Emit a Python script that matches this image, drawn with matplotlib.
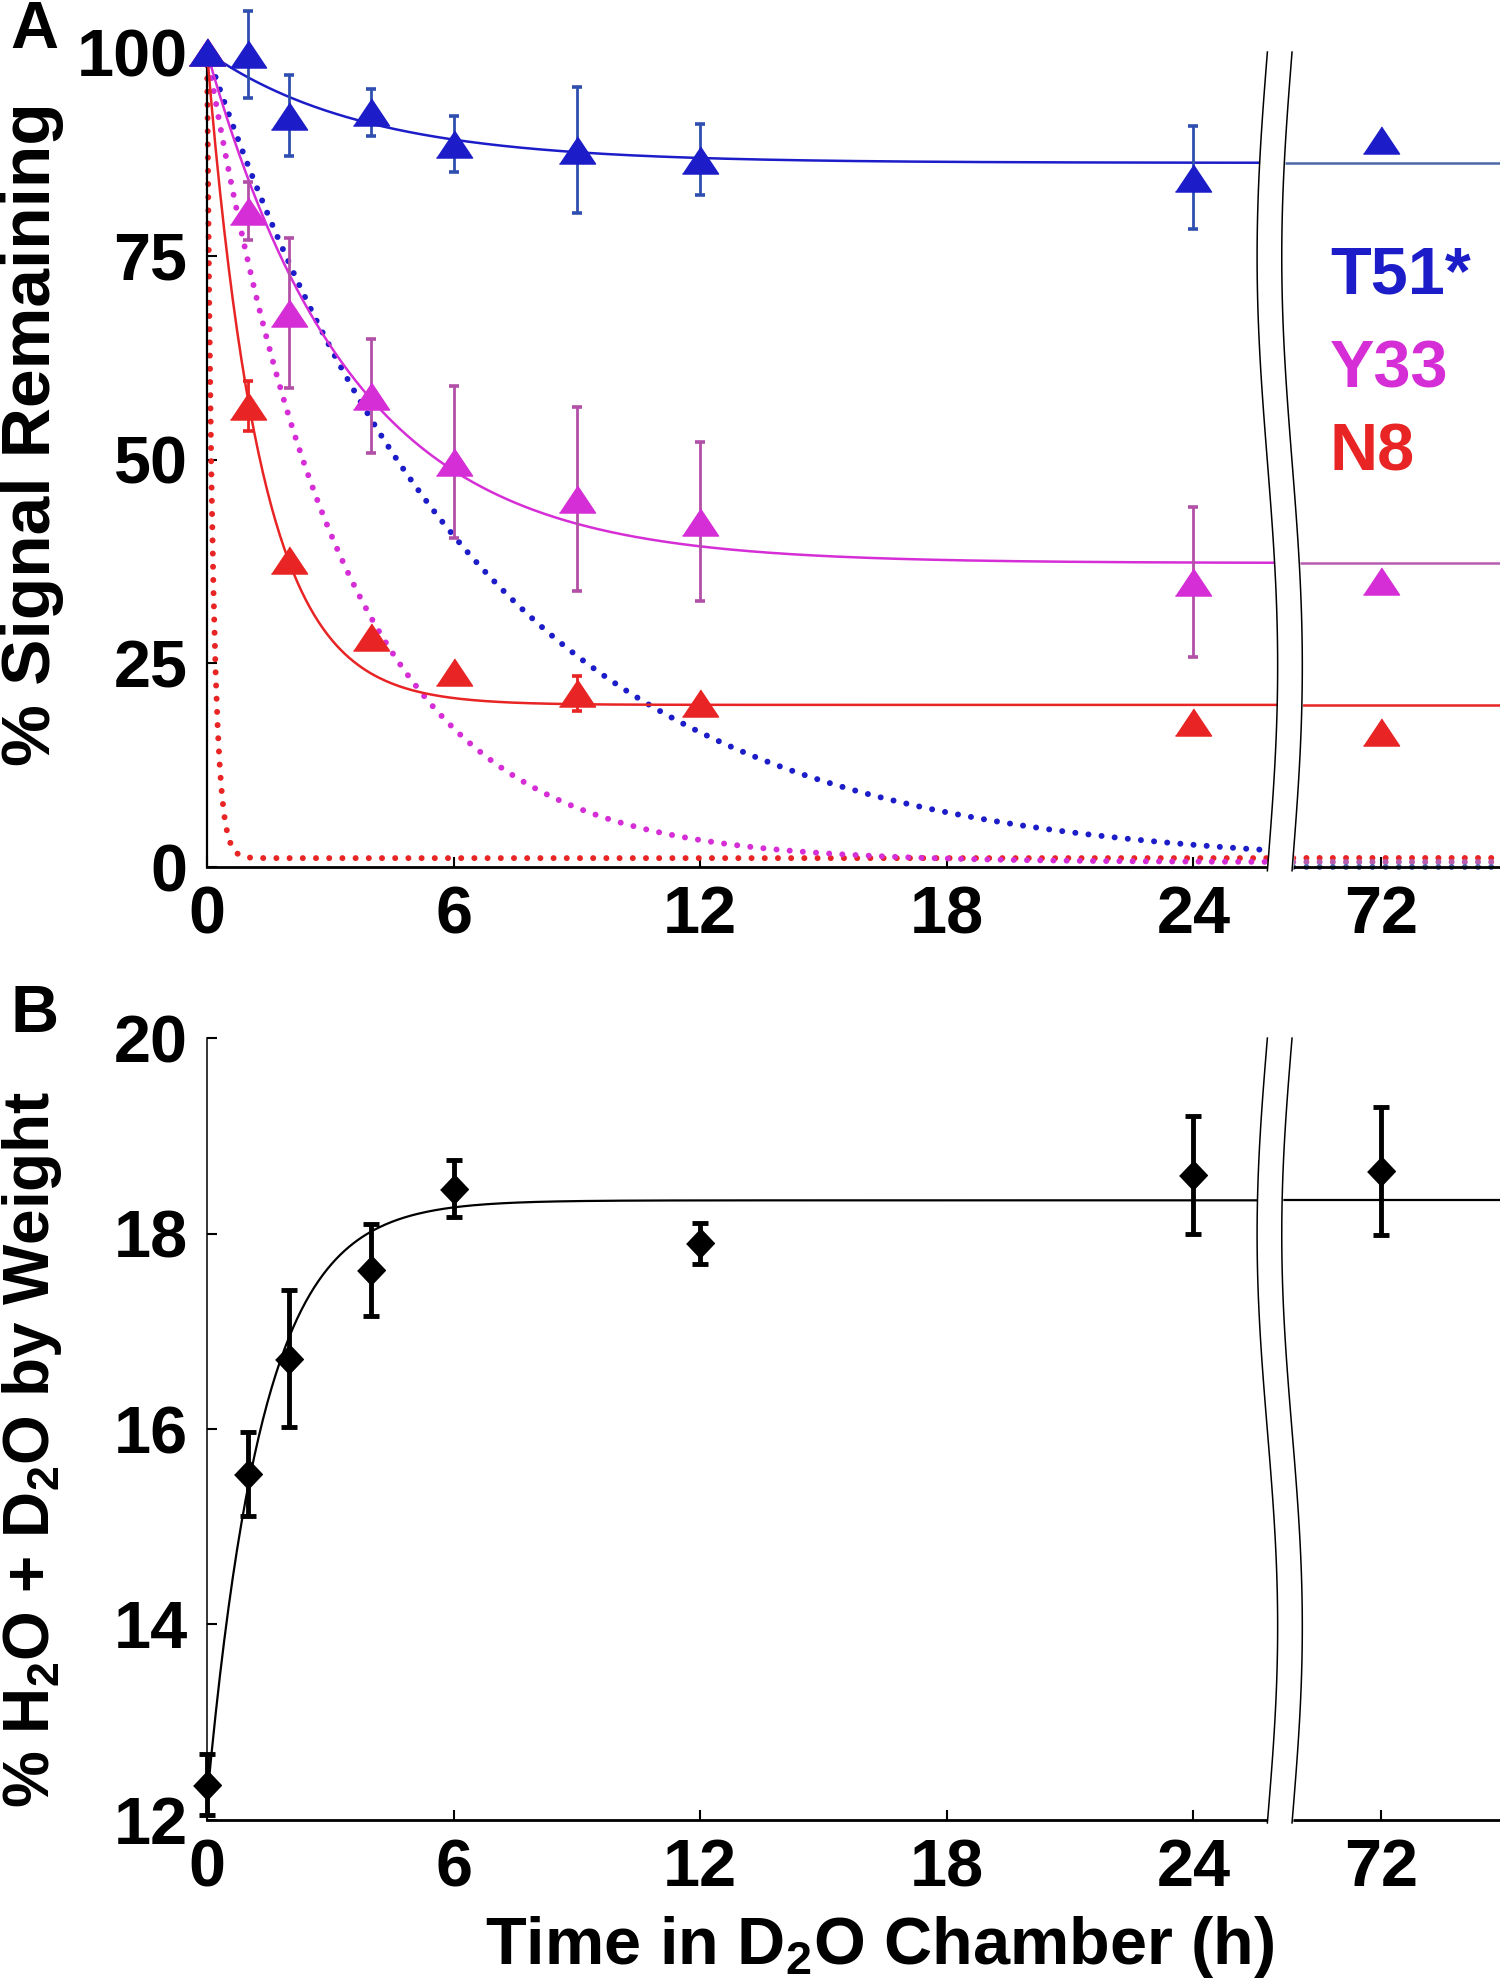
import numpy as np
import matplotlib
matplotlib.use("Agg")
import matplotlib.pyplot as plt

plt.rcParams['font.family'] = ['Liberation Sans', 'DejaVu Sans']
plt.rcParams['font.weight'] = 'bold'
plt.rcParams['mathtext.fontset'] = 'custom'
plt.rcParams['mathtext.rm'] = 'Liberation Sans:bold'
plt.rcParams['mathtext.bf'] = 'Liberation Sans:bold'
plt.rcParams['mathtext.default'] = 'bf'

# ---- panel A data (% signal remaining) ----
hours = [0, 1, 2, 4, 6, 9, 12, 24, 72]
t51 = [100, 99.7, 92.2, 92.6, 88.7, 88.0, 86.8, 84.6, 89.2]
t51_err = [0, 5.3, 5.0, 2.9, 3.4, 7.7, 4.4, 6.3, 0]
y33 = [100, 80.5, 68.0, 57.8, 49.7, 45.2, 42.4, 35.0, 35.1]
y33_err = [0, 3.6, 9.2, 7.0, 9.3, 11.3, 9.8, 9.2, 0]
n8 = [100, 56.6, 37.7, 28.2, 23.9, 21.3, 20.1, 17.8, 16.6]
n8_err = [0, 3.1, 0, 0, 0, 2.2, 0, 0, 0]

labels = ['T51*', 'Y33', 'N8']
colors = ['#1c1cc8', '#d62ed6', '#e82424']
err_colors = ['#2f4fb0', '#b24fa6', '#e82424']
post_colors = ['#4a68a8', '#b85cb0', '#e82424']

# single exponential fits (plateau, rate per h)
fit_plateau = [86.4, 37.3, 19.9]
fit_rate = [0.26, 0.285, 0.76]
# predicted exchange (dotted curves)
pred_plateau = [0.0, 0.6, 1.1]
pred_rate = [0.15, 0.30, 7.0]

# ---- panel B data (% water by weight) ----
b_hours = [0, 1, 2, 4, 6, 12, 24, 72]
water = [12.36, 15.54, 16.72, 17.63, 18.46, 17.9, 18.6, 18.64]
water_err = [0.31, 0.43, 0.70, 0.47, 0.29, 0.21, 0.60, 0.65]
water_fit = (12.2, 18.34, 0.74)  # start, plateau, rate

# broken x axis: 0-24 h linear, then 72 h placed after the break
tick_pos = [0, 6, 12, 18, 24, 28.56]
tick_lab = ['0', '6', '12', '18', '24', '72']
break_pos = 26.1
x_max = 31.46


def xpos(t):
    return 28.56 if t == 72 else t


tri = [(-1, -0.75), (1, -0.75), (0, 0.75)]
dia = [(0, 1), (0.95, 0), (0, -1), (-0.95, 0)]


def style_axis(ax, ylo, yhi, yticks, spine_lw):
    ax.set_xlim(0, x_max)
    ax.set_ylim(ylo, yhi)
    for s in ['top', 'right']:
        ax.spines[s].set_visible(False)
    ax.spines['left'].set_linewidth(spine_lw)
    ax.spines['bottom'].set_linewidth(2.0)
    ax.set_xticks(tick_pos)
    ax.set_xticklabels(tick_lab)
    ax.set_yticks(yticks)
    ax.tick_params(direction='in', length=7, width=1.5, labelsize=48)
    ax.tick_params(axis='x', pad=13)
    ax.tick_params(axis='y', pad=14)


def draw_break(ax, y_lo, y_hi):
    s = np.linspace(0, 1, 80)
    wig = 0.25 * np.sin(2 * np.pi * s)
    ys = y_hi - (y_hi - y_lo) * s
    xl = break_pos - 0.3 - wig
    xr = break_pos + 0.3 - wig
    ax.fill_betweenx(ys, xl, xr, color='white', zorder=10, clip_on=False)
    ax.plot(xl, ys, color='black', lw=1.1, zorder=11, clip_on=False)
    ax.plot(xr, ys, color='black', lw=1.1, zorder=11, clip_on=False)


fig = plt.figure(figsize=(15, 19.86), dpi=100)
axA = fig.add_axes([0.138, 0.5634, 0.862, 0.4104])
axB = fig.add_axes([0.138, 0.0836, 0.862, 0.3937])

pre = np.linspace(0, break_pos, 500)
post = np.linspace(break_pos, x_max, 20)
dots = (0, (0.01, 2.2))

# ---- panel A ----
series = [t51, y33, n8]
errs = [t51_err, y33_err, n8_err]
for i in [2, 1, 0]:
    P, k = pred_plateau[i], pred_rate[i]
    axA.plot(pre, P + (100 - P) * np.exp(-k * pre), color=colors[i], lw=4.3,
             linestyle=dots, dash_capstyle='round', zorder=2, clip_on=False)
    axA.plot(post, np.full_like(post, P + (100 - P) * np.exp(-k * 72)), color=post_colors[i], lw=4.3,
             linestyle=dots, dash_capstyle='round', zorder=2, clip_on=False)

for i in [2, 1, 0]:
    P, k = fit_plateau[i], fit_rate[i]
    axA.plot(pre, P + (100 - P) * np.exp(-k * pre), color=colors[i], lw=1.8, zorder=3, clip_on=False)
    axA.plot(post, np.full_like(post, P), color=post_colors[i], lw=1.8, zorder=3, clip_on=False)

for i in [2, 1, 0]:
    xs = [xpos(t) for t in hours]
    e = errs[i]
    xe = [x for x, v in zip(xs, e) if v > 0]
    ye = [y for y, v in zip(series[i], e) if v > 0]
    ee = [v for v in e if v > 0]
    axA.errorbar(xe, ye, yerr=ee, fmt='none', ecolor=err_colors[i], elinewidth=2.0,
                 capsize=3.8, capthick=2.6, zorder=4, clip_on=False)
    axA.plot(xs, series[i], linestyle='none', marker=tri, markersize=26,
             color=colors[i], zorder=5, clip_on=False)

style_axis(axA, 0, 100, [0, 25, 50, 75, 100], 1.6)
draw_break(axA, -0.45, 100)

leg_y = [70.4, 58.8, 48.6]
for i in range(3):
    axA.text(27.32, leg_y[i], labels[i], color=colors[i], fontsize=48,
             fontweight='bold', ha='left', va='baseline', zorder=12)

# ---- panel B ----
y0, P, k = water_fit
axB.plot(pre, P - (P - y0) * np.exp(-k * pre), color='black', lw=1.6, zorder=3, clip_on=False)
axB.plot(post, np.full_like(post, P), color='black', lw=1.6, zorder=3, clip_on=False)
bx = [xpos(t) for t in b_hours]
axB.errorbar(bx, water, yerr=water_err, fmt='none', ecolor='black', elinewidth=3.5,
             capsize=5.5, capthick=3.5, zorder=4, clip_on=False)
axB.plot(bx, water, linestyle='none', marker=dia, markersize=21, color='black',
         zorder=5, clip_on=False)

style_axis(axB, 12, 20, [12, 14, 16, 18, 20], 1.1)
draw_break(axB, 11.97, 20)

# ---- labels ----
fig.text(0.0067, 0.9758, 'A', fontsize=48, fontweight='bold', ha='left', va='baseline')
fig.text(0.0067, 0.4804, 'B', fontsize=48, fontweight='bold', ha='left', va='baseline')
fig.text(0.0213, 0.7815, '% Signal Remaining', fontsize=50, fontweight='bold',
         rotation=90, ha='center', va='center')
fig.text(0.0213, 0.2700, '% H$_2$O + D$_2$O by Weight', fontsize=46, fontweight='bold',
         rotation=90, ha='center', va='center')
fig.text(0.5867, 0.0111, 'Time in D$_2$O Chamber (h)', fontsize=48, fontweight='bold',
         ha='center', va='baseline')

fig.savefig('out.png', dpi=100)
